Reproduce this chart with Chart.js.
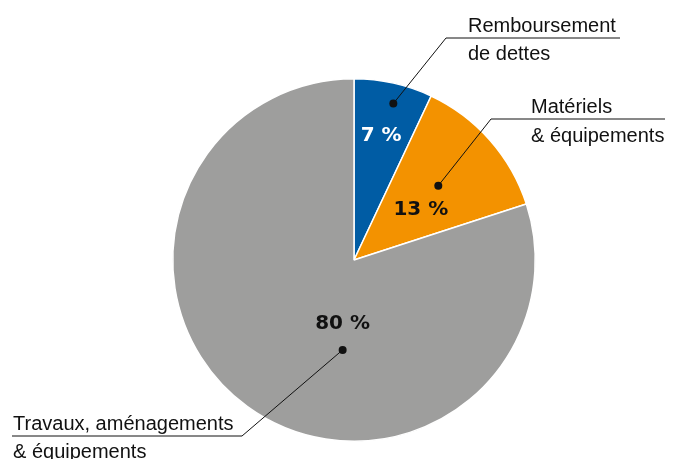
<!DOCTYPE html>
<html lang="fr">
<head>
  <meta charset="UTF-8" />
  <title>Répartition des dépenses</title>
  <script src="https://cdn.jsdelivr.net/npm/chart.js"></script>
  <style>
    html, body { margin: 0; padding: 0; background: #fff; }
    .wrap { width: 684px; height: 459px; }
  </style>
</head>
<body>
  <div class="wrap">
    <canvas id="pie" width="684" height="459"></canvas>
  </div>

  <script>
    // data
    const categories = ["Remboursement de dettes", "Matériels & équipements", "Travaux, aménagements & équipements"];
    const shares = [7, 13, 80];
    const pctLabels = ["7 %", "13 %", "80 %"];
    const labelLines = [
      ["Remboursement", "de dettes"],
      ["Matériels", "& équipements"],
      ["Travaux, aménagements", "& équipements"]
    ];

    const colors = ["#005ca4", "#f39200", "#9e9e9d"];
    const pctColors = ["#ffffff", "#111111", "#111111"];

    // where inside each slice the % text and the dot sit (fraction of angle, fraction of radius)
    const pctPlace = [[0.49, 0.70], [0.60, 0.46], [0.41, 0.36]];
    const dotPlace = [[0.56, 0.89], [0.50, 0.62], [0.40, 0.50]];
    // callout layout: elbow point, underline end, text x, text baselines
    const callouts = [
      { elbow: [446, 38], lineEnd: 620, textX: 468, base: [32, 60] },
      { elbow: [491, 119], lineEnd: 665, textX: 531, base: [113, 142] },
      { elbow: [242, 436], lineEnd: 12, textX: 13, base: [430, 458] }
    ];

    const calloutPlugin = {
      id: "callouts",
      afterDraw(chart) {
        const ctx = chart.ctx;
        const arcs = chart.getDatasetMeta(0).data;
        ctx.save();
        arcs.forEach((arc, i) => {
          const p = arc.getProps(["x", "y", "startAngle", "endAngle", "outerRadius"], true);
          const at = (place) => {
            const a = p.startAngle + (p.endAngle - p.startAngle) * place[0];
            const r = p.outerRadius * place[1];
            return [p.x + Math.cos(a) * r, p.y + Math.sin(a) * r];
          };

          // percentage
          const [tx, ty] = at(pctPlace[i]);
          ctx.font = "bold 20px 'DejaVu Sans'";
          ctx.fillStyle = pctColors[i];
          ctx.textAlign = "center";
          ctx.textBaseline = "middle";
          ctx.fillText(pctLabels[i], tx, ty);

          // leader
          const [dx, dy] = at(dotPlace[i]);
          const c = callouts[i];
          ctx.strokeStyle = "#111";
          ctx.lineWidth = 1;
          ctx.beginPath();
          ctx.moveTo(dx, dy);
          ctx.lineTo(c.elbow[0], c.elbow[1]);
          ctx.lineTo(c.lineEnd, c.elbow[1]);
          ctx.stroke();
          ctx.fillStyle = "#111";
          ctx.beginPath();
          ctx.arc(dx, dy, 4, 0, Math.PI * 2);
          ctx.fill();

          // category text
          ctx.font = "20px 'Liberation Sans'";
          ctx.textAlign = "left";
          ctx.textBaseline = "alphabetic";
          labelLines[i].forEach((line, k) => ctx.fillText(line, c.textX, c.base[k]));
        });
        ctx.restore();
      }
    };

    new Chart(document.getElementById("pie"), {
      type: "pie",
      data: {
        labels: categories,
        datasets: [{
          data: shares,
          backgroundColor: colors,
          borderColor: "#ffffff",
          borderWidth: 1.5
        }]
      },
      options: {
        responsive: false,
        animation: false,
        layout: { padding: { left: 172, right: 148, top: 78, bottom: 17 } },
        plugins: {
          legend: { display: false },
          tooltip: { enabled: false }
        }
      },
      plugins: [calloutPlugin]
    });
  </script>
</body>
</html>
